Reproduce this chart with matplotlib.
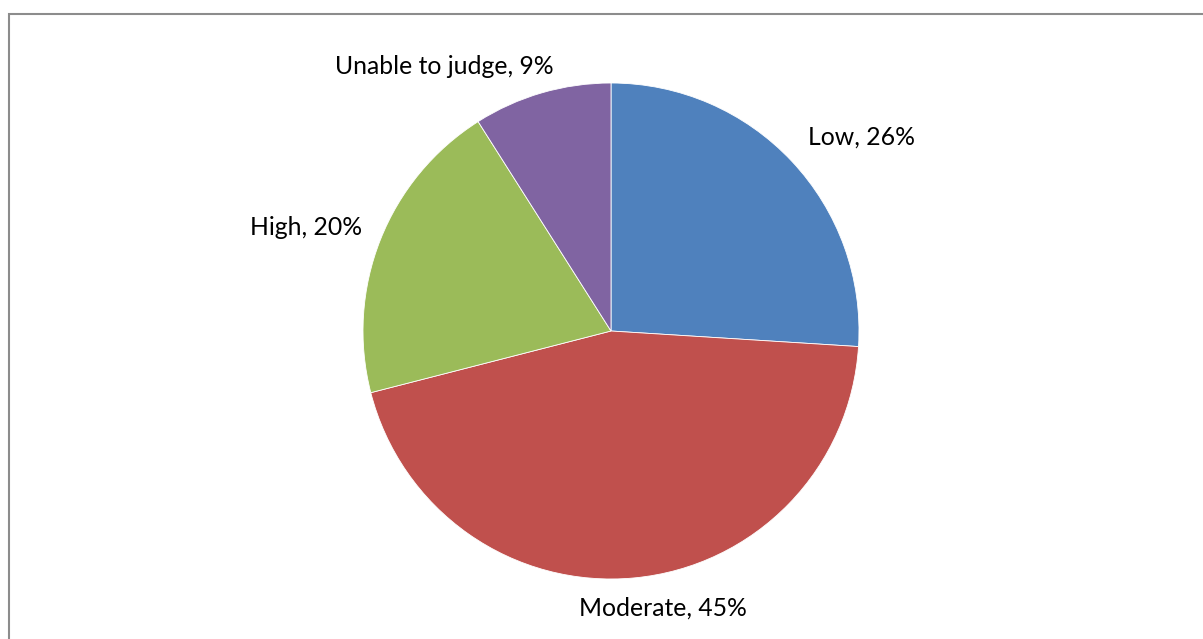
import matplotlib
matplotlib.use("Agg")
import matplotlib.pyplot as plt
from matplotlib.patches import Rectangle

categories = ["Low", "Moderate", "High", "Unable to judge"]
shares = [26, 45, 20, 9]
colors = ["#4F81BD", "#C0504D", "#9BBB59", "#8064A2"]
# label anchor points, in units of the pie radius
label_pos = [(1.012, 0.780), (0.210, -1.118), (-1.230, 0.418), (-0.673, 1.065)]

W, H = 1203, 639
fig = plt.figure(figsize=(W / 100, H / 100), dpi=100)
fig.patch.set_facecolor("white")

# chart frame
fig.patches.append(Rectangle((9 / W, -0.1), 1.2, (H - 14.5) / H + 0.1,
                             transform=fig.transFigure, fill=False,
                             edgecolor="#8C8C8C", linewidth=1.5))

cx, cy, r = 611, 331, 248
ax = fig.add_axes([(cx - r) / W, (H - cy - r) / H, 2 * r / W, 2 * r / H])
ax.pie(shares, colors=colors, startangle=90, counterclock=False,
       wedgeprops=dict(edgecolor="white", linewidth=0.6))
ax.set_xlim(-1, 1)
ax.set_ylim(-1, 1)
ax.set_aspect("equal")
ax.axis("off")

for name, val, (lx, ly) in zip(categories, shares, label_pos):
    ax.text(lx, ly, f"{name}, {val}%", ha="center", va="center",
            fontsize=17.8, family="Lato", color="black", clip_on=False)

fig.savefig("out.png", dpi=100)
